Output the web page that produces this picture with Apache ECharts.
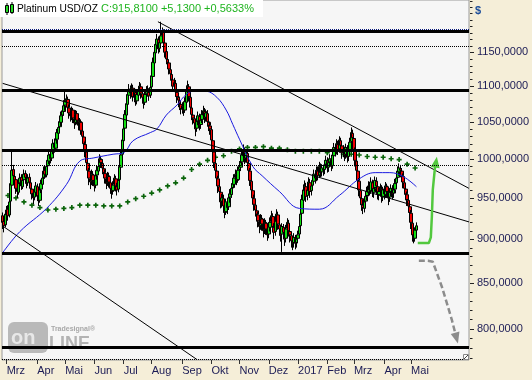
<!DOCTYPE html>
<html><head><meta charset="utf-8">
<script src="https://cdn.jsdelivr.net/npm/echarts@6/dist/echarts.min.js"></script>
<style>html,body{margin:0;padding:0;background:#f5eed8;}#c{width:532px;height:380px;}</style>
</head><body><div id="c"></div>
<script>
// ---- axis / labels ----
const totalSlots = 351;
const monthTicks = [['2016-03-01','Mrz'],['2016-04-01','Apr'],['2016-05-02','Mai'],['2016-06-01','Jun'],['2016-07-01','Jul'],['2016-08-01','Aug'],['2016-09-01','Sep'],['2016-10-03','Okt'],['2016-11-01','Nov'],['2016-12-01','Dez'],['2017-01-02','2017'],['2017-02-01','Feb'],['2017-03-01','Mrz'],['2017-04-03','Apr'],['2017-05-01','Mai']];
const yTicks = [800,850,900,950,1000,1050,1100,1150];
const yMin = 768, yMax = 1231.6;

// ---- daily OHLC (index 0 = 2016-02-25) ----
const opens = [928,921,917,929,936,929,946,966,986,977,
973,961,957,969,976,964,973,981,975,969,
976,969,961,956,951,957,964,953,947,961,
967,976,985,979,991,997,1006,1001,1011,1021,
1014,1026,1034,1043,1049,1059,1064,1073,1079,1081,
1069,1061,1057,1066,1054,1049,1061,1051,1044,1049,
1037,1029,1019,1009,994,984,974,971,979,971,
966,979,984,991,999,994,987,981,974,969,
977,969,961,959,967,974,964,961,973,989,
1006,1024,1041,1059,1074,1087,1096,1089,1097,1084,
1091,1079,1087,1096,1099,1089,1083,1077,1089,1094,
1091,1087,1099,1114,1134,1149,1161,1169,1156,1164,
1176,1181,1164,1151,1139,1134,1124,1117,1109,1101,
1104,1091,1084,1079,1074,1067,1071,1066,1077,1094,
1099,1084,1069,1059,1054,1047,1041,1051,1057,1046,
1053,1059,1064,1056,1061,1049,1044,1039,1024,1009,
994,984,974,964,957,946,949,939,933,944,
939,951,954,963,967,976,979,973,986,989,
996,1004,1011,1001,1007,994,984,971,959,949,
941,934,929,921,916,924,917,911,919,911,
906,914,921,927,914,909,921,929,917,911,
906,914,907,901,913,919,909,904,897,896,
901,896,901,906,916,931,947,959,964,953,
959,969,959,966,971,979,976,984,979,989,
983,987,986,993,997,989,996,999,991,1004,
1014,1011,1019,1013,1024,1017,1009,1011,1006,1014,
1003,1011,1023,1034,1027,1011,997,984,971,959,
949,941,937,946,953,957,966,959,969,957,
963,971,964,954,959,961,951,961,954,964,
957,951,958,961,956,961,969,976,983,987,
984,977,969,961,954,947,939,931,919,904,
901,910.68];
const closes = [920,916,930,935,928,945,968,985,978,972,
962,958,968,975,965,972,980,976,968,975,
970,962,955,950,958,965,952,948,960,968,
975,984,980,990,998,1005,1000,1012,1020,1015,
1025,1035,1042,1050,1058,1065,1072,1078,1082,1070,
1062,1058,1065,1055,1048,1060,1052,1045,1050,1038,
1030,1020,1010,995,985,975,970,980,972,965,
978,985,990,1000,995,988,982,975,968,978,
970,962,958,966,975,965,960,972,990,1005,
1025,1040,1060,1075,1088,1095,1090,1098,1085,1092,
1080,1088,1095,1100,1090,1084,1078,1088,1095,1092,
1086,1098,1115,1135,1150,1162,1170,1155,1165,1175,
1182,1165,1150,1140,1135,1125,1118,1110,1100,1105,
1092,1085,1080,1075,1068,1072,1065,1078,1095,1100,
1085,1070,1060,1055,1048,1040,1050,1058,1045,1052,
1060,1065,1055,1062,1050,1045,1040,1025,1010,995,
985,975,965,958,945,950,940,932,945,938,
950,955,962,968,975,980,972,985,990,995,
1005,1012,1000,1008,995,985,972,960,950,942,
935,930,922,915,925,918,910,920,912,905,
915,920,928,915,908,922,930,918,912,905,
915,908,900,912,920,910,905,898,895,902,
895,900,905,915,930,948,960,965,952,960,
970,958,965,972,980,975,985,978,990,982,
988,985,992,998,988,995,1000,990,1005,1015,
1010,1020,1012,1025,1018,1008,1012,1005,1015,1002,
1010,1022,1035,1028,1012,998,985,972,960,950,
942,938,945,952,958,965,960,970,958,962,
972,965,955,958,962,952,960,955,965,958,
950,957,962,955,960,968,975,984,988,985,
978,970,962,955,948,940,932,920,905,902,
910.68,915.81];
const lows = [912,908,914,925,922,926,943,962,972,965,
955,950,954,964,960,961,968,970,962,965,
964,956,948,942,947,953,946,940,944,956,
962,971,974,976,985,993,994,997,1006,1008,
1010,1020,1028,1036,1044,1052,1058,1065,1070,1064,
1054,1050,1052,1048,1040,1045,1046,1038,1040,1032,
1022,1012,1002,988,978,966,961,966,965,958,
962,973,980,986,988,980,975,968,961,965,
963,955,949,954,962,958,953,957,969,985,
1002,1019,1036,1054,1069,1080,1082,1084,1078,1077,
1072,1074,1083,1089,1082,1075,1068,1073,1083,1085,
1079,1083,1095,1110,1128,1144,1154,1148,1150,1158,
1168,1158,1142,1132,1126,1117,1108,1100,1092,1094,
1085,1076,1070,1066,1060,1061,1058,1062,1073,1088,
1078,1063,1052,1046,1040,1030,1036,1045,1038,1040,
1048,1054,1048,1050,1043,1037,1032,1018,1003,988,
977,966,956,949,937,938,932,925,929,930,
935,944,950,957,962,970,966,969,980,984,
991,999,993,995,988,977,965,952,942,934,
927,921,914,907,911,910,902,906,905,898,
901,909,916,909,900,904,917,911,904,897,
885,900,892,896,908,903,896,890,887,890,
888,890,895,901,912,926,943,952,945,947,
955,950,953,960,966,968,971,972,975,976,
977,978,980,987,982,983,990,984,987,1000,
1003,1006,1005,1008,1010,1000,1002,997,1000,995,
997,1006,1018,1018,1005,990,977,964,952,941,
934,930,932,940,947,952,953,955,951,950,
958,958,948,947,952,944,946,948,950,950,
941,945,952,948,950,956,964,971,978,976,
970,962,954,947,940,932,924,912,897,895,
897,906];
const highs = [932,925,934,940,941,950,975,1010,992,983,
977,966,973,981,980,977,986,985,980,980,
981,973,966,960,963,970,968,957,964,973,
980,990,991,995,1004,1010,1012,1018,1026,1027,
1031,1040,1048,1056,1064,1071,1080,1092,1088,1085,
1074,1066,1071,1069,1059,1066,1065,1056,1055,1053,
1041,1033,1023,1012,998,988,979,986,984,976,
983,991,997,1006,1004,999,992,986,979,983,
982,974,966,971,980,978,969,978,995,1010,
1032,1046,1066,1082,1094,1103,1101,1104,1102,1097,
1096,1093,1100,1106,1104,1094,1089,1093,1100,1101,
1097,1104,1122,1142,1156,1170,1178,1174,1172,1197,
1188,1185,1168,1156,1146,1139,1130,1122,1114,1112,
1109,1096,1090,1085,1079,1077,1076,1084,1101,1108,
1103,1088,1074,1064,1059,1052,1056,1064,1061,1057,
1066,1072,1069,1067,1066,1055,1050,1043,1028,1013,
998,989,978,968,961,955,954,944,949,949,
955,961,968,974,980,986,984,990,997,1002,
1012,1019,1015,1013,1011,998,988,975,963,954,
946,940,933,926,930,929,921,925,923,916,
920,926,934,931,919,927,936,933,921,915,
919,918,911,917,925,923,913,908,902,907,
905,905,910,920,936,954,967,972,969,966,
976,974,970,978,986,985,990,990,996,994,
993,992,998,1004,1002,1000,1006,1004,1010,1021,
1019,1026,1024,1030,1028,1021,1018,1016,1020,1018,
1015,1028,1042,1039,1031,1015,1001,988,975,964,
953,948,951,958,964,971,970,976,973,967,
977,976,968,963,968,966,964,965,970,968,
961,962,967,966,965,974,981,990,994,992,
988,981,973,965,958,951,943,935,923,910,
914,920];

// ---- indicators: [slot index, price] ----
const maBlue = [[0,884],[13,909],[33,937],[48,967],[58,997],[68,1001],[83,1006],[91,1008],[98,1024],[111,1035],[116,1040],[123,1059],[131,1073],[138,1088],[146,1094],[153,1093],[161,1084],[168,1066],[173,1046],[178,1026],[188,990],[195,978],[208,958],[223,937],[238,936],[253,953],[268,974],[280,982],[291,982],[301,977],[311,964]];
const maGreen = [[4,953],[10,950],[16,945],[22,941],[28,938],[34,935],[40,936],[46,937],[52,938],[58,941],[64,941],[70,941],[76,940],[82,940],[88,940],[94,945],[100,949],[106,952],[112,956],[118,960],[124,965],[130,969],[136,975],[142,986],[148,993],[154,998],[160,1002],[166,1004],[172,1010],[178,1013],[184,1015],[190,1015],[196,1016],[202,1014],[208,1014],[214,1012],[220,1010],[226,1010],[232,1010],[238,1010],[244,1008],[250,1007],[256,1006],[262,1006],[268,1005],[274,1003],[280,1002],[286,1002],[292,1000],[298,999],[304,993],[310,988]];
// trend lines and levels
const trend1 = [[116.7,1197],[350.4,962]];
const trend2 = [[0,1104],[350.5,920.5]];
const trend3 = [[0,915.6],[146,768.5]];
const levelsThick = [1182.7,1094.4,1011.6,883.7,781.0];
const levelsDotted = [1158.6,991.9,769.0];
const levelNavy = 1185.1;
// projection arrows
const arrowUp = [[312,895.3],[320.3,895.3],[321.8,902],[322.6,927.5],[323.3,960.5],[324.8,986.5],[325.7,995.5]];
const arrowDown = [[312.8,874.7],[319.6,874.7],[323.3,873.6],[326.3,861],[330.1,845.5],[333.8,827.8],[337.6,809.6],[341.1,790.4]];

// ---- build ----
const dates = [];
let dd = new Date(Date.UTC(2016,1,25));
while (dates.length < totalSlots) {
  const wd = dd.getUTCDay();
  if (wd !== 0 && wd !== 6) dates.push(dd.toISOString().slice(0,10));
  dd = new Date(dd.getTime() + 86400000);
}
const tickMap = Object.fromEntries(monthTicks);
const ohlc = opens.map((o,i)=>[o, closes[i], lows[i], highs[i]]);
const FONT = 'Liberation Sans';

function arrowData(pts, rot, color) {
  return pts.map((p,i)=> i===pts.length-1
    ? {value:p, symbol:'triangle', symbolSize:[9,11], symbolRotate:rot, itemStyle:{color:color}}
    : {value:p, symbol:'none'});
}

const chart = echarts.init(document.getElementById('c'), null, {renderer:'canvas'});
const option = {
  animation:false,
  backgroundColor:'#f5eed8',
  grid:{left:2, right:63, top:0, bottom:20, show:true, backgroundColor:'#f6f6f6', borderColor:'#9a9a9a', borderWidth:1},
  xAxis:[{
    type:'category', data:dates, boundaryGap:true,
    axisLine:{show:false},
    axisTick:{show:true, alignWithLabel:true, length:4, interval:(i,v)=>v in tickMap, lineStyle:{color:'#333'}},
    axisLabel:{interval:(i,v)=>v in tickMap, formatter:v=>tickMap[v]||'', align:'left', margin:5, color:'#1b1b55', fontSize:11, fontFamily:FONT},
    splitLine:{show:false}
  },{
    type:'value', min:-0.5, max:totalSlots-0.5, show:false
  }],
  yAxis:{type:'log', logBase:10, min:yMin, max:yMax, position:'right', show:true,
    axisLine:{show:false}, axisTick:{show:false}, axisLabel:{show:false}, splitLine:{show:false}},
  series:[
    {type:'scatter', xAxisIndex:1, data:maGreen, symbol:'path://M2,0H4V2H6V4H4V6H2V4H0V2H2Z', symbolSize:5, itemStyle:{color:'#0a640a', opacity:1}, silent:true, z:1},
    {type:'candlestick', xAxisIndex:0, data:ohlc, barWidth:3, z:2,
      itemStyle:{color:'#12e012', color0:'#f00000', borderColor:'#000', borderColor0:'#000', borderWidth:1},
      markLine:{silent:true, symbol:'none', label:{show:false}, animation:false,
        data:[
          ...levelsThick.map(v=>({yAxis:v, lineStyle:{color:'#000', width:3, type:'solid'}})),
          ...levelsDotted.map(v=>({yAxis:v, lineStyle:{color:'#000', width:1, type:[1,1]}})),
          {yAxis:levelNavy, lineStyle:{color:'#0a1a7a', width:1, type:[1,1]}}
        ]}
    },
    {type:'line', xAxisIndex:1, data:maBlue, smooth:0.4, showSymbol:false, lineStyle:{color:'#1a1ae0', width:1}, silent:true, z:3},
    {type:'line', xAxisIndex:1, data:trend1, showSymbol:false, lineStyle:{color:'#000', width:1}, silent:true, z:3},
    {type:'line', xAxisIndex:1, data:trend2, showSymbol:false, lineStyle:{color:'#000', width:1}, silent:true, z:3},
    {type:'line', xAxisIndex:1, data:trend3, showSymbol:false, lineStyle:{color:'#000', width:1}, silent:true, z:3},
    {type:'line', xAxisIndex:1, data:arrowData(arrowUp,-9,'#52c83e'), symbol:'none', lineStyle:{color:'#52c83e', width:2.5}, silent:true, z:4},
    {type:'line', xAxisIndex:1, data:arrowData(arrowDown,195,'#8c8c8c'), symbol:'none', lineStyle:{color:'#8c8c8c', width:2.5, type:[6,3]}, silent:true, z:4}
  ]
};
chart.setOption(option);

// right axis ticks and labels through the log scale
const g = [];
for (let v = 770; v <= 1230; v += 10) {
  const y = Math.round(chart.convertToPixel({yAxisIndex:0}, v)) + 0.5;
  const major = yTicks.indexOf(v) >= 0;
  g.push({type:'line', shape:{x1:470, y1:y, x2:major?474:472.5, y2:y}, style:{stroke:'#222', lineWidth:1}, silent:true});
}
yTicks.forEach(v=>{
  const y = chart.convertToPixel({yAxisIndex:0}, v);
  g.push({type:'text', x:477, y:y, style:{text:v.toFixed(4).replace('.',','), fill:'#1b1b55', font:'11px '+FONT, textVerticalAlign:'middle'}, silent:true});
});
g.push({type:'text', x:475, y:5, style:{text:'$', fill:'#1d4e9a', font:'bold 11px '+FONT}, silent:true});
// title
const last = closes[closes.length-1], prev = closes[closes.length-2];
const chg = last - prev, pct = chg/prev*100;
const fmt = (n)=> (n>=0?'+':'') + n.toFixed(4).replace('.',',');
g.push({type:'rect', shape:{x:0,y:0,width:263,height:17}, style:{fill:'#ffffff'}, silent:true, z:10});
g.push({type:'line', shape:{x1:7,y1:3,x2:7,y2:15}, style:{stroke:'#000'}, z:11});
g.push({type:'rect', shape:{x:5.5,y:5.5,width:3,height:7}, style:{fill:'#22dd22', stroke:'#000'}, z:11});
g.push({type:'line', shape:{x1:12,y1:2,x2:12,y2:14}, style:{stroke:'#000'}, z:11});
g.push({type:'rect', shape:{x:10.5,y:4.5,width:3,height:8}, style:{fill:'#22dd22', stroke:'#000'}, z:11});
g.push({type:'text', x:17, y:9, style:{text:'Platinum USD/OZ', fill:'#000', font:'10.2px '+FONT, textVerticalAlign:'middle'}, z:11});
g.push({type:'text', x:101, y:9, style:{text:'C:'+last.toFixed(4).replace('.',',')+' '+fmt(chg)+' '+fmt(pct)+'%', fill:'#1fb41f', font:'11px '+FONT, textVerticalAlign:'middle'}, z:11});
// watermark
g.push({type:'rect', shape:{x:8,y:322,width:40,height:31,r:6}, style:{fill:'#b9b9b9'}, silent:true, z:0});
g.push({type:'text', x:11, y:338, style:{text:'on', fill:'#e8e8e8', font:'bold 20px '+FONT, textVerticalAlign:'middle'}, silent:true, z:0});
g.push({type:'text', x:49, y:344, style:{text:'LINE', fill:'#b3b3b3', font:'bold 18px '+FONT, textVerticalAlign:'middle'}, silent:true, z:0});
g.push({type:'text', x:51, y:329, style:{text:'Tradesignal®', fill:'#a8a8a8', font:'bold 7px '+FONT, textVerticalAlign:'middle'}, silent:true, z:0});
// corner glyph
g.push({type:'rect', shape:{x:463.5,y:354.5,width:5,height:5}, style:{fill:'#fff', stroke:'#888'}, z:11});
g.push({type:'line', shape:{x1:464,y1:359,x2:468,y2:355}, style:{stroke:'#444'}, z:11});
chart.setOption({graphic:g});
</script></body></html>
